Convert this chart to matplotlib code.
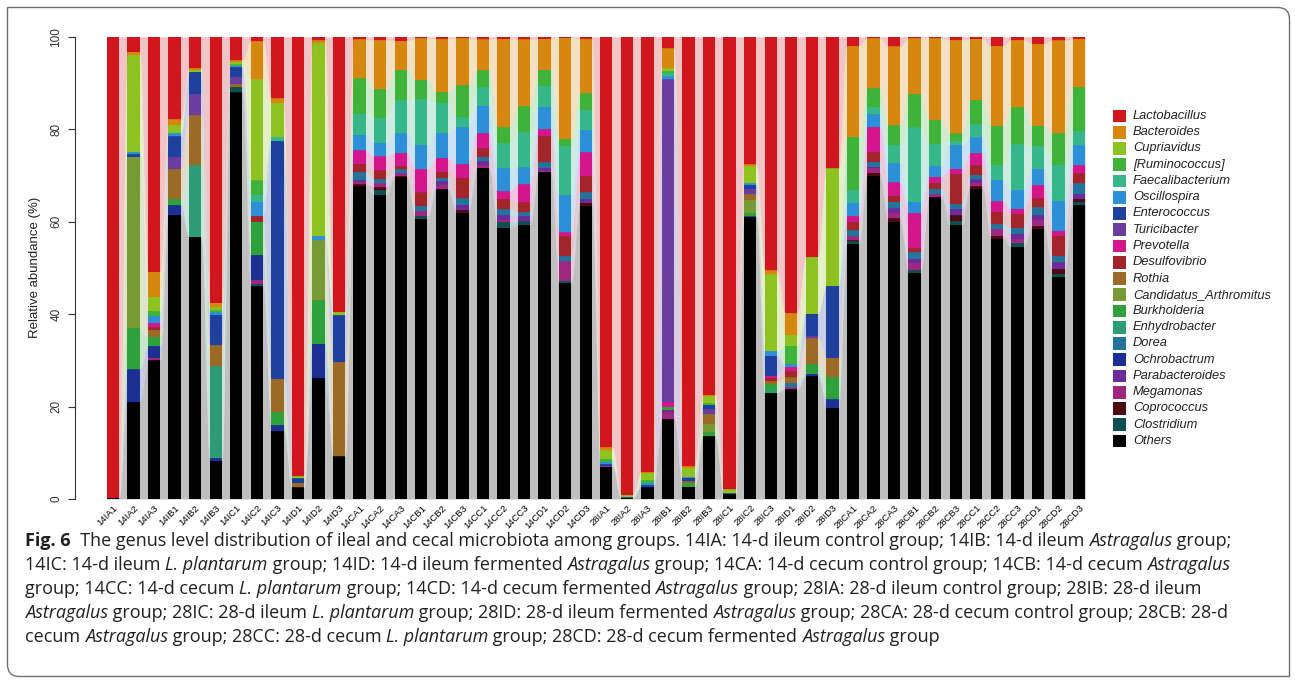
import numpy as np
import matplotlib.pyplot as plt
from matplotlib.patches import Rectangle, PathPatch
from matplotlib.path import Path
from matplotlib.font_manager import FontProperties

plt.rcParams['font.family'] = ['Liberation Sans', 'DejaVu Sans']

W, H = 1295, 680

samples = ["14IA1", "14IA2", "14IA3", "14IB1", "14IB2", "14IB3", "14IC1", "14IC2", "14IC3",
           "14ID1", "14ID2", "14ID3", "14CA1", "14CA2", "14CA3", "14CB1", "14CB2", "14CB3",
           "14CC1", "14CC2", "14CC3", "14CD1", "14CD2", "14CD3", "28IA1", "28IA2", "28IA3",
           "28IB1", "28IB2", "28IB3", "28IC1", "28IC2", "28IC3", "28ID1", "28ID2", "28ID3",
           "28CA1", "28CA2", "28CA3", "28CB1", "28CB2", "28CB3", "28CC1", "28CC2", "28CC3",
           "28CD1", "28CD2", "28CD3"]

# legend order (top of the stack first)
genera = ["Lactobacillus", "Bacteroides", "Cupriavidus", "[Ruminococcus]", "Faecalibacterium",
          "Oscillospira", "Enterococcus", "Turicibacter", "Prevotella", "Desulfovibrio", "Rothia",
          "Candidatus_Arthromitus", "Burkholderia", "Enhydrobacter", "Dorea", "Ochrobactrum",
          "Parabacteroides", "Megamonas", "Coprococcus", "Clostridium", "Others"]

colors = ["#d2161e", "#d6870f", "#8dc220", "#3fb23a", "#36b78a", "#2d8fd7", "#1f409d",
          "#6a3d9e", "#d3168b", "#a1252a", "#9a6a26", "#789a34", "#2ea03c", "#2c9b76",
          "#23739a", "#1c2f92", "#6e2a98", "#9e2880", "#4d0a10", "#0e4f4f", "#000000"]

# relative abundance (%) per sample
lactobacillus = [99.7, 3.2, 50.8, 17.8, 6.8, 57.5, 5.1, 1.0, 13.3, 95.0, 0.8, 59.5,
                 0.6, 0.7, 0.9, 0.3, 0.4, 0.3, 0.5, 0.4, 0.6, 0.4, 0.2, 0.4,
                 88.7, 99.1, 94.1, 2.5, 92.9, 77.5, 97.9, 27.7, 50.4, 59.8, 47.7, 28.4,
                 2.0, 0.3, 2.1, 0.3, 0.3, 0.7, 0.4, 2.0, 0.7, 1.5, 0.8, 0.4]
bacteroides = [0, 0.7, 5.4, 1.1, 0.4, 1.0, 0.3, 8.2, 0.9, 0, 0.5, 0,
               8.4, 10.6, 6.2, 9.0, 11.5, 10.2, 6.7, 19.2, 14.4, 6.7, 21.9, 11.8,
               0.7, 0, 0.3, 4.3, 0.3, 0.3, 0, 0.3, 0.8, 4.7, 0, 0,
               19.6, 10.8, 17.1, 12.0, 17.7, 20.2, 13.2, 17.2, 14.6, 17.7, 20.1, 10.5]
cupriavidus = [0, 21.0, 3.2, 1.8, 0.4, 0.7, 0.6, 21.9, 7.4, 0.5, 41.7, 0.7,
               0, 0, 0, 0, 0, 0, 0, 0, 0, 0, 0, 0,
               1.9, 0.5, 1.5, 0.7, 2.0, 1.5, 0.8, 3.8, 16.6, 2.3, 12.3, 25.3,
               0, 0, 0, 0, 0, 0, 0, 0, 0, 0, 0, 0]
ruminococcus = [0, 0, 1.1, 0, 0, 0.4, 0.3, 3.1, 0, 0, 0, 0,
                7.6, 6.3, 6.5, 4.2, 2.4, 6.9, 3.6, 3.4, 5.6, 3.5, 1.5, 3.6,
                0.6, 0, 0.6, 0.4, 0, 0.3, 0, 0, 0, 4.0, 0, 0,
                11.5, 4.1, 4.2, 7.3, 5.2, 1.6, 5.3, 8.5, 8.0, 4.4, 6.8, 9.5]
faecalibacterium = [0, 0, 0, 0, 0, 0, 0, 1.5, 0.8, 0, 0, 0,
                    4.6, 5.3, 7.2, 9.9, 6.5, 2.2, 4.1, 5.4, 7.7, 4.6, 10.6, 4.4,
                    0, 0, 0, 0.7, 0, 0, 0, 0, 0, 0, 0, 0,
                    2.8, 1.6, 4.1, 16.1, 4.8, 0.9, 2.8, 3.3, 9.8, 5.0, 7.8, 3.1]
oscillospira = [0, 0.5, 1.4, 0.7, 0, 0.5, 0.3, 3.0, 0, 0, 1.0, 0,
                3.3, 3.0, 4.2, 5.2, 5.4, 7.9, 6.0, 5.0, 3.6, 4.8, 8.1, 4.8,
                0.4, 0, 0.4, 0.6, 0.2, 0, 0, 0.3, 1.0, 0.6, 0, 0,
                2.8, 2.7, 4.1, 2.4, 2.3, 5.1, 3.4, 4.6, 4.1, 3.4, 6.5, 4.3]
enterococcus = [0, 0.5, 0, 4.4, 4.8, 6.6, 2.1, 0, 51.3, 1.0, 0, 10.1,
                0, 0, 0, 0, 0, 0, 0, 0, 0, 0, 0, 0,
                0.4, 0.2, 0.6, 0, 0.8, 1.0, 0.3, 0.9, 4.3, 0, 4.8, 15.5,
                0, 0, 0, 0, 0, 0, 0, 0, 0, 0, 0, 0]
turicibacter = [0, 0, 0, 2.6, 4.6, 0, 1.5, 0, 0, 0, 0, 0,
                0, 0, 0, 0, 0, 0, 0, 0, 0, 0, 0, 0,
                0, 0, 0, 69.8, 0, 1.0, 0, 1.2, 0, 0, 0.6, 0,
                0, 0, 0, 0, 0, 0, 0, 0, 0, 0, 0, 0]
prevotella = [0, 0, 1.0, 0, 0, 0, 0, 0, 0, 0, 0, 0,
              2.9, 3.0, 2.9, 5.1, 3.0, 2.9, 3.2, 1.7, 4.0, 1.4, 0.9, 5.1,
              0, 0, 0, 1.0, 0, 0, 0, 0, 0.4, 1.0, 0, 0,
              1.3, 5.5, 2.9, 7.7, 1.3, 1.1, 2.7, 2.2, 1.1, 2.9, 1.1, 1.7]
desulfovibrio = [0, 0, 0.5, 0, 0, 0, 0, 1.3, 0, 0, 0, 0,
                 1.9, 1.9, 0.6, 2.9, 1.3, 4.5, 1.8, 2.2, 2.1, 5.8, 4.2, 3.6,
                 0, 0, 0, 0, 0, 0, 0, 0, 0.8, 1.2, 0, 0,
                 1.9, 2.0, 1.3, 0.8, 1.3, 6.5, 2.0, 2.7, 3.0, 2.0, 4.3, 2.2]
rothia = [0, 0, 1.5, 6.5, 10.8, 4.5, 0.7, 0, 7.2, 1.0, 0, 20.5,
          0, 0, 0, 0, 0, 0, 0, 0, 0, 0, 0, 0,
          0, 0, 0, 0, 0.4, 2.2, 0, 1.2, 0.5, 1.2, 5.6, 4.2,
          0, 0, 0, 0, 0, 0, 0, 0, 0, 0, 0, 0]
candidatus = [0, 37.0, 0, 0, 0, 0, 0, 0, 0, 0, 13.0, 0,
              0, 0, 0, 0, 0, 0, 0, 0, 0, 0, 0, 0,
              0, 0, 0, 0, 0, 1.8, 0, 2.9, 0, 0, 0, 0,
              0, 0, 0, 0, 0, 0, 0, 0, 0, 0, 0, 0]
burkholderia = [0, 9.0, 2.0, 1.3, 0, 0, 0, 7.2, 2.7, 0, 9.3, 0,
                0, 0, 0, 0, 0, 0, 0, 0, 0, 0, 0, 0,
                0, 0, 0, 0.7, 0.7, 0.8, 0, 0.6, 1.5, 0, 2.0, 4.8,
                0, 0, 0, 0, 0, 0, 0, 0, 0, 0, 0, 0]
enhydrobacter = [0, 0, 0, 0, 15.7, 19.9, 0, 0, 0, 0, 0, 0,
                 0, 0, 0, 0, 0, 0, 0, 0, 0, 0, 0, 0,
                 0, 0, 0, 0, 0, 0, 0, 0, 0.5, 0, 0, 0,
                 0, 0, 0, 0, 0, 0, 0, 0, 0, 0, 0, 0]
dorea = [0, 0, 0, 0, 0, 0, 0, 0, 0, 0, 0, 0,
         1.7, 0.9, 0.7, 1.0, 0.8, 1.4, 1.0, 1.3, 0.8, 1.2, 1.2, 1.5,
         0, 0, 0, 0, 0, 0, 0, 0, 0, 1.0, 0, 0,
         1.3, 1.1, 1.4, 1.4, 1.1, 1.1, 1.0, 1.0, 1.3, 1.7, 1.4, 2.3]
ochrobactrum = [0, 7.0, 2.5, 2.1, 0, 0.6, 0, 5.4, 1.4, 0, 7.5, 0,
                0, 0, 0, 0, 0, 0, 0, 0, 0, 0, 0, 0,
                0, 0, 0, 0, 0, 0, 0, 0.3, 0, 0, 0.6, 1.9,
                0, 0, 0, 0, 0, 0, 0, 0, 0, 0, 0, 0]
parabacteroides = [0, 0, 0, 0, 0, 0, 0, 0, 0, 0, 0, 0,
                   0.3, 0, 0, 0, 0.7, 1.1, 0.9, 1.0, 1.2, 0.6, 0, 0.7,
                   0, 0, 0, 0.5, 0, 0, 0, 0, 0, 0, 0, 0,
                   0, 0.2, 1.1, 1.0, 0, 1.4, 0.7, 0, 1.1, 1.1, 1.4, 1.1]
megamonas = [0, 0, 0.6, 0, 0, 0, 0, 0.9, 0, 0, 0, 0,
             0.5, 0.8, 0.7, 1.1, 1.0, 0, 0.5, 0.4, 0, 0.3, 4.2, 0,
             0.2, 0, 0, 1.5, 0, 0, 0, 0, 0, 0.5, 0, 0,
             0.8, 1.1, 1.1, 1.5, 0.7, 0, 0.7, 1.5, 0.9, 1.1, 0, 0]
coprococcus = [0, 0, 0, 0, 0, 0, 0, 0, 0, 0, 0, 0,
               0.5, 0.7, 0.3, 0, 0, 0.7, 0, 0, 0, 0, 0, 0.7,
               0, 0, 0, 0, 0, 0, 0, 0, 0, 0, 0, 0,
               0.3, 0.7, 0.7, 0, 0, 1.2, 0.7, 0.7, 0, 0.7, 1.1, 0.7]
clostridium = [0, 0, 0, 0, 0, 0, 1.2, 0.5, 0, 0, 0, 0,
               0, 1.0, 0, 0.7, 0, 0, 0, 1.3, 0.8, 0, 0.5, 0,
               0, 0, 0, 0, 0, 0, 0, 0, 0, 0, 0, 0,
               0.5, 0, 0, 0.6, 0, 0.9, 0, 0, 0.9, 0, 0.7, 0.7]
others = [0.3, 21.0, 30.0, 61.1, 57.0, 8.3, 88.2, 46.0, 14.6, 2.5, 26.1, 9.2,
          67.5, 65.8, 69.2, 60.6, 67.0, 61.7, 71.6, 58.6, 59.3, 70.7, 46.7, 63.4,
          7.0, 0.2, 2.5, 17.3, 2.7, 13.6, 1.0, 61.1, 22.9, 23.7, 26.6, 19.6,
          55.2, 69.9, 60.2, 48.9, 65.3, 59.2, 66.9, 56.2, 54.5, 58.4, 48.0, 63.5]

abundance = [lactobacillus, bacteroides, cupriavidus, ruminococcus, faecalibacterium,
             oscillospira, enterococcus, turicibacter, prevotella, desulfovibrio, rothia,
             candidatus, burkholderia, enhydrobacter, dorea, ochrobactrum, parabacteroides,
             megamonas, coprococcus, clostridium, others]


def px(x, y):
    """pixel position -> figure fraction"""
    return x / W, 1 - y / H


def ribbon_x(n, w, u):
    xs = []
    for i in range(n):
        xs += [i - w / 2, i + w / 2]
        if i < n - 1:
            xs += list(i + w / 2 + (1 - w) * u)
    return np.array(xs)


def ribbon_y(v, u):
    s = (1 - np.cos(np.pi * u)) / 2
    ys = []
    for i in range(len(v)):
        ys += [v[i], v[i]]
        if i < len(v) - 1:
            ys += list(v[i] + (v[i + 1] - v[i]) * s)
    return np.array(ys)


table = np.array(abundance, dtype=float)
table = table / table.sum(axis=0) * 100
n = len(samples)
pos = np.arange(n)
bar_w = 0.6

fig = plt.figure(figsize=(W / 100, H / 100), dpi=100)
ax = fig.add_axes([102.7 / W, 1 - 499 / H, 986.6 / W, 462.3 / H])

# stacked from the bottom: Others first, Lactobacillus last
u = np.linspace(0, 1, 18)[1:-1]
rx = ribbon_x(n, bar_w, u)
bottom = np.zeros(n)
for k in range(len(genera) - 1, -1, -1):
    top = bottom + table[k]
    ax.fill_between(rx, ribbon_y(bottom, u), ribbon_y(top, u), color=colors[k],
                    alpha=0.25, linewidth=0)
    ax.bar(pos, table[k], width=bar_w, bottom=bottom, color=colors[k], linewidth=0)
    bottom = top

ax.set_xlim(-0.5, n - 0.5)
ax.set_ylim(0, 100)
for side in ["top", "right", "bottom"]:
    ax.spines[side].set_visible(False)
ax.spines["left"].set_position(("outward", 20))
ax.spines["left"].set_bounds(0, 100)
ax.spines["left"].set_color("#333333")
ax.set_yticks([0, 20, 40, 60, 80, 100])
ax.tick_params(axis="y", length=5, labelsize=8.5, pad=4, colors="#333333")
for lab in ax.get_yticklabels():
    lab.set_rotation(90)
    lab.set_va("center")
ax.set_ylabel("Relative abundance (%)", fontsize=9.5, labelpad=7, color="#222222")
ax.set_xticks(pos)
ax.set_xticklabels(samples, rotation=45, ha="right", rotation_mode="anchor", fontsize=6.8)
ax.tick_params(axis="x", length=0, pad=3)

# legend
for i, g in enumerate(genera):
    y = 116 + i * 16.25
    x0, y0 = px(1113, y + 6.3)
    fig.add_artist(Rectangle((x0, y0), 13 / W, 12.6 / H, transform=fig.transFigure,
                             facecolor=colors[i], edgecolor="none"))
    tx, ty = px(1133, y)
    fig.text(tx, ty, g, fontsize=9.3, style="italic", va="center", ha="left", color="#222222")

# caption
cap_font = ["Open Sans", "DejaVu Sans"]
cap_size = 13.0
caption = [
    [("Fig. 6", "bold"), ("  The genus level distribution of ileal and cecal microbiota among groups. "
                          "14IA: 14-d ileum control group; 14IB: 14-d ileum ", "normal"),
     ("Astragalus", "italic"), (" group;", "normal")],
    [("14IC: 14-d ileum ", "normal"), ("L. plantarum", "italic"),
     (" group; 14ID: 14-d ileum fermented ", "normal"), ("Astragalus", "italic"),
     (" group; 14CA: 14-d cecum control group; 14CB: 14-d cecum ", "normal"), ("Astragalus", "italic")],
    [("group; 14CC: 14-d cecum ", "normal"), ("L. plantarum", "italic"),
     (" group; 14CD: 14-d cecum fermented ", "normal"), ("Astragalus", "italic"),
     (" group; 28IA: 28-d ileum control group; 28IB: 28-d ileum", "normal")],
    [("Astragalus", "italic"), (" group; 28IC: 28-d ileum ", "normal"), ("L. plantarum", "italic"),
     (" group; 28ID: 28-d ileum fermented ", "normal"), ("Astragalus", "italic"),
     (" group; 28CA: 28-d cecum control group; 28CB: 28-d", "normal")],
    [("cecum ", "normal"), ("Astragalus", "italic"), (" group; 28CC: 28-d cecum ", "normal"),
     ("L. plantarum", "italic"), (" group; 28CD: 28-d cecum fermented ", "normal"),
     ("Astragalus", "italic"), (" group", "normal")],
]

renderer = fig.canvas.get_renderer()


def advance(s, prop):
    w1 = renderer.get_text_width_height_descent("x" + s + "x", prop, ismath=False)[0]
    w0 = renderer.get_text_width_height_descent("xx", prop, ismath=False)[0]
    return w1 - w0


for li, line in enumerate(caption):
    x = 25
    y = 541 + li * 24
    for txt, style in line:
        prop = FontProperties(family=cap_font, size=cap_size,
                              weight="bold" if style == "bold" else "normal",
                              style="italic" if style == "italic" else "normal")
        fx, fy = px(x, y)
        fig.text(fx, fy, txt, fontproperties=prop, va="center", ha="left", color="#231f20")
        x += advance(txt, prop)

# frame with rounded top-right and bottom-left corners
L, T, R, B, r = 7.5, 7.5, 1289.5, 676.5, 12
verts = [(L, T), (R - r, T), (R, T), (R, T + r), (R, B), (L + r, B), (L, B), (L, B - r), (L, T)]
codes = [Path.MOVETO, Path.LINETO, Path.CURVE3, Path.CURVE3, Path.LINETO, Path.LINETO,
         Path.CURVE3, Path.CURVE3, Path.CLOSEPOLY]
verts = [px(vx, vy) for vx, vy in verts]
fig.add_artist(PathPatch(Path(verts, codes), transform=fig.transFigure, facecolor="none",
                         edgecolor="#6d6e71", linewidth=1))

fig.savefig("out.png", dpi=100)
